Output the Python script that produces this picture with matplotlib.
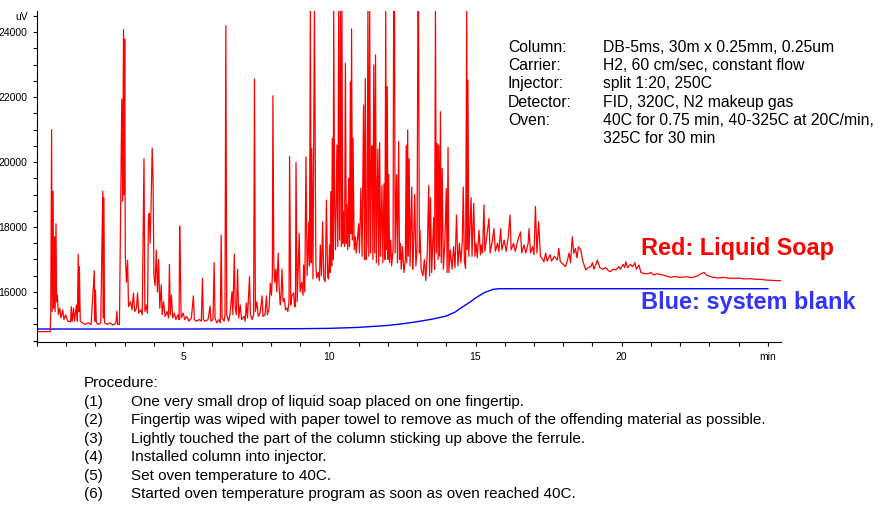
import numpy as np
import matplotlib
matplotlib.use("Agg")
from matplotlib import pyplot as plt
from matplotlib.ticker import MultipleLocator, FixedLocator, FixedFormatter

plt.rcParams["font.family"] = ["Liberation Sans", "DejaVu Sans"]

# red trace (liquid soap), digitised as (min, uV)
red_early = [
    (0.0, 14780), (0.45, 14780), (0.47, 15350), (0.50, 21000), (0.52, 15400),
    (0.55, 19100), (0.57, 15500), (0.60, 17700), (0.62, 15400), (0.65, 18100),
    (0.67, 15700), (0.70, 15900), (0.73, 15300), (0.78, 15500), (0.82, 15200),
    (0.88, 15450), (0.92, 15150), (0.98, 15300), (1.05, 15100), (1.15, 15080),
    (1.17, 15550), (1.20, 15100), (1.25, 15500), (1.28, 15100), (1.35, 15600),
    (1.38, 15100), (1.41, 17160), (1.43, 15400), (1.45, 16780), (1.48, 15100),
    (1.55, 15050), (1.65, 15000), (1.75, 15050), (1.85, 15000), (1.96, 16650),
    (1.98, 15100), (2.00, 16060), (2.03, 15050), (2.10, 15000), (2.18, 15050),
    (2.25, 19100), (2.27, 15200), (2.28, 18900), (2.31, 15050), (2.40, 15000),
    (2.50, 15050), (2.60, 14980), (2.70, 15050), (2.73, 15400), (2.76, 15000),
    (2.82, 15000), (2.86, 18500), (2.90, 21940), (2.93, 18800), (2.96, 24080),
    (2.98, 19000), (3.00, 23785), (3.02, 17140), (3.06, 16300), (3.10, 16980),
    (3.13, 15550), (3.20, 15700), (3.25, 15450),
]
red_mid = [
    (3.30, 15970), (3.34, 15400), (3.40, 15500), (3.44, 15970), (3.48, 15350),
    (3.55, 15450), (3.60, 15300), (3.66, 20100), (3.69, 15400), (3.75, 15600),
    (3.78, 15350), (3.81, 18215), (3.84, 18420), (3.87, 17500), (3.90, 18600),
    (3.94, 20430), (3.97, 19450), (4.00, 16500), (4.04, 16200), (4.08, 17290),
    (4.12, 16000), (4.16, 17000), (4.20, 15500), (4.25, 16215), (4.28, 15300),
    (4.33, 15700), (4.38, 15250), (4.45, 15400), (4.50, 15200), (4.53, 16850),
    (4.56, 15300), (4.60, 15900), (4.64, 15200), (4.70, 15350), (4.75, 15150),
    (4.82, 15300), (4.86, 15150), (4.88, 18030), (4.90, 17050), (4.93, 15200),
    (5.00, 15350), (5.05, 15150), (5.12, 15250), (5.20, 15100), (5.28, 15200),
    (5.35, 15880), (5.38, 15150), (5.45, 15100), (5.55, 15150), (5.62, 15100),
    (5.66, 16420), (5.69, 15150), (5.75, 15100), (5.85, 15150), (5.92, 15560),
    (5.95, 15100), (6.02, 15150), (6.06, 16910), (6.09, 15200), (6.15, 15050),
    (6.22, 15150), (6.27, 15050), (6.30, 17750), (6.33, 15200), (6.40, 15100),
    (6.43, 15300), (6.46, 24200), (6.49, 15300), (6.55, 15100), (6.60, 15300),
    (6.67, 16010), (6.70, 15300), (6.75, 17160), (6.78, 15500), (6.82, 15300),
    (6.86, 16700), (6.90, 15200), (6.95, 15600), (7.00, 15150), (7.08, 15250),
    (7.12, 15100), (7.16, 15660), (7.20, 15200), (7.27, 16470), (7.30, 15300),
    (7.36, 15150), (7.41, 15300), (7.44, 22550), (7.47, 15400), (7.52, 15700),
    (7.57, 15250), (7.63, 15350), (7.70, 15880), (7.73, 15250), (7.80, 15300),
    (7.85, 15880), (7.88, 15300), (7.94, 15500), (7.98, 16270), (8.02, 15900),
    (8.05, 16500), (8.07, 22040), (8.10, 16900), (8.13, 16300), (8.17, 16700),
    (8.20, 16000), (8.25, 17200), (8.28, 16200), (8.32, 15600), (8.35, 15900),
    (8.38, 16700), (8.42, 15700), (8.46, 15800), (8.50, 15450), (8.55, 15500),
    (8.58, 15400), (8.62, 15700), (8.64, 20170), (8.68, 15600), (8.72, 15900),
    (8.78, 15970), (8.81, 15550), (8.84, 15550), (8.86, 19990), (8.90, 15700),
    (8.97, 17800), (9.00, 16000), (9.05, 16300), (9.10, 15900), (9.12, 16830),
    (9.16, 16000),
]
red_dense = [
    (9.20, 20160), (9.24, 16500), (9.30, 18160), (9.32, 16800), (9.35, 24700),
    (9.38, 16900), (9.40, 20420), (9.44, 16400), (9.49, 24700), (9.51, 21550),
    (9.54, 16800), (9.57, 16430), (9.62, 16600), (9.66, 16350), (9.69, 17450),
    (9.73, 16500), (9.77, 18160), (9.81, 16400), (9.86, 16320), (9.90, 18830),
    (9.94, 16500), (9.97, 16400), (10.01, 17450), (10.03, 16600), (10.05, 19090),
    (10.08, 16800), (10.10, 20730), (10.13, 17000), (10.15, 24700), (10.18, 18680),
    (10.21, 17300), (10.26, 20520), (10.29, 17400), (10.32, 24700), (10.35, 17600),
    (10.38, 24700), (10.41, 17400), (10.43, 24700), (10.46, 17500), (10.49, 18470),
    (10.52, 17400), (10.55, 23040), (10.58, 17500), (10.60, 18680), (10.63, 17300),
    (10.66, 19500), (10.69, 17400), (10.72, 22470), (10.74, 17800), (10.76, 24100),
    (10.79, 17600), (10.81, 20730), (10.85, 17300), (10.89, 17700), (10.92, 17200),
    (10.96, 17600), (11.00, 18100), (11.03, 17200), (11.08, 19200), (11.12, 17100),
    (11.17, 21750), (11.20, 17000), (11.23, 22570), (11.26, 17000), (11.29, 17600),
    (11.32, 24700), (11.35, 17100), (11.38, 24700), (11.41, 17200), (11.43, 19800),
    (11.46, 20500), (11.49, 17000), (11.52, 22990), (11.55, 17200), (11.58, 23300),
    (11.61, 16900), (11.66, 20400), (11.69, 16830), (11.72, 20600), (11.75, 17100),
    (11.80, 19280), (11.83, 16900), (11.87, 19330), (11.90, 17000), (11.93, 24700),
    (11.95, 17300), (11.98, 22330), (12.01, 17000), (12.03, 19610), (12.06, 16900),
    (12.10, 17600), (12.13, 16800), (12.18, 17300), (12.20, 24700), (12.23, 24700),
    (12.25, 17200), (12.30, 19600), (12.33, 16900), (12.37, 20630), (12.40, 17000),
    (12.43, 17500), (12.46, 16700), (12.50, 17400), (12.55, 16600), (12.60, 17000),
    (12.63, 20520), (12.65, 16900), (12.68, 20990), (12.70, 17100), (12.73, 20100),
    (12.76, 16800), (12.82, 19230), (12.85, 16700), (12.88, 17400), (12.92, 19000),
    (12.96, 16800), (13.00, 17300), (13.03, 24700), (13.05, 24700), (13.08, 17200),
    (13.10, 17900), (13.14, 16700), (13.20, 16500), (13.25, 17000), (13.30, 16350),
    (13.35, 17200), (13.40, 19280), (13.43, 16500), (13.46, 18900), (13.50, 16600),
    (13.57, 18300), (13.60, 16700), (13.63, 24700), (13.66, 17200), (13.69, 20580),
    (13.72, 17000), (13.74, 20520), (13.77, 17100), (13.80, 21550), (13.83, 16900),
    (13.86, 19800), (13.90, 16700), (13.95, 17500), (14.00, 19180), (14.03, 16600),
    (14.06, 20450), (14.09, 16600), (14.14, 17300), (14.20, 16700), (14.25, 17400),
    (14.30, 16750), (14.35, 18370), (14.40, 16800), (14.45, 17500), (14.50, 16900),
    (14.55, 17600), (14.58, 19230), (14.62, 16950), (14.66, 16730), (14.70, 24700),
    (14.72, 17300), (14.74, 22520), (14.77, 17100), (14.85, 18900), (14.88, 17100),
    (14.94, 18730), (14.98, 17100), (15.02, 17500), (15.06, 17050), (15.12, 17900),
    (15.17, 17140), (15.20, 17450), (15.24, 17200), (15.29, 18680), (15.32, 17250),
]
red_tail = [
    (15.46, 18260), (15.50, 17200), (15.58, 17600), (15.63, 17950), (15.68, 17250),
    (15.75, 17500), (15.80, 17250), (15.86, 17950), (15.90, 17300), (15.98, 17600),
    (16.05, 17250), (16.12, 17700), (16.18, 18370), (16.22, 17300), (16.30, 17500),
    (16.36, 17250), (16.45, 17600), (16.54, 17850), (16.58, 17200), (16.66, 17450),
    (16.72, 17200), (16.80, 17500), (16.83, 17950), (16.88, 17200), (16.95, 17400),
    (17.00, 17150), (17.05, 18630), (17.10, 17200), (17.16, 18160), (17.22, 17100),
    (17.30, 17000), (17.34, 16930), (17.40, 17200), (17.45, 16950), (17.55, 17150),
    (17.60, 16950), (17.70, 17100), (17.80, 16980), (17.85, 17340), (17.90, 16930),
    (18.00, 16850), (18.08, 16780), (18.15, 17000), (18.20, 17200), (18.25, 16900),
    (18.31, 17700), (18.36, 17190), (18.42, 17340), (18.47, 17050), (18.52, 17390),
    (18.60, 17300), (18.67, 16950), (18.77, 16680), (18.85, 16750), (18.94, 16780),
    (19.00, 16900), (19.05, 16700), (19.17, 16980), (19.25, 16750), (19.35, 16700),
    (19.45, 16750), (19.55, 16650), (19.62, 16630), (19.70, 16700), (19.80, 16680),
    (19.90, 16780), (19.95, 16700), (20.05, 16850), (20.10, 16750), (20.14, 16930),
    (20.20, 16750), (20.30, 16850), (20.37, 16780), (20.45, 16900), (20.50, 16700),
    (20.59, 16830), (20.66, 16600), (20.75, 16575), (20.90, 16560), (21.00, 16600),
    (21.10, 16520), (21.20, 16560), (21.34, 16540), (21.50, 16500), (21.68, 16450),
    (21.80, 16480), (22.00, 16450), (22.20, 16470), (22.40, 16440), (22.60, 16500),
    (22.75, 16580), (22.82, 16600), (22.90, 16520), (23.00, 16480), (23.16, 16450),
    (23.30, 16430), (23.50, 16450), (23.62, 16430), (23.80, 16420), (24.00, 16430),
    (24.20, 16400), (24.40, 16410), (24.60, 16390), (24.76, 16390), (24.90, 16370),
    (25.10, 16360), (25.30, 16350), (25.45, 16350),
]

# blue trace (system blank)
blue_t = [0.0, 5.0, 9.0, 10.0, 11.0, 12.0, 12.5, 13.0, 13.5, 14.0, 14.3, 14.5,
          14.8, 15.0, 15.3, 15.6, 15.8, 25.0]
blue_uv = [14860, 14860, 14870, 14880, 14910, 14970, 15020, 15085, 15160, 15260,
           15380, 15510, 15680, 15815, 15980, 16080, 16100, 16100]

y_ticks = [16000, 18000, 20000, 22000, 24000]
x_ticks = [5, 10, 15, 20, 25]
x_labels = ["5", "10", "15", "20", "min"]

conditions = [
    ("Column:", "DB-5ms, 30m x 0.25mm, 0.25um"),
    ("Carrier:", "H2, 60 cm/sec, constant flow"),
    ("Injector:", "split 1:20, 250C"),
    ("Detector:", "FID, 320C, N2 makeup gas"),
    ("Oven:", "40C for 0.75 min, 40-325C at 20C/min,"),
    ("", "325C for 30 min"),
]
procedure = [
    "One very small drop of liquid soap placed on one fingertip.",
    "Fingertip was wiped with paper towel to remove as much of the offending material as possible.",
    "Lightly touched the part of the column sticking up above the ferrule.",
    "Installed column into injector.",
    "Set oven temperature to 40C.",
    "Started oven temperature program as soon as oven reached 40C.",
]

W, H = 883, 508
fig = plt.figure(figsize=(W / 100, H / 100), dpi=100)
ax = fig.add_axes([37 / W, 1 - 342 / H, 744 / W, 331 / H])

red = np.array(red_early + red_mid + red_dense + red_tail)
ax.plot(blue_t, blue_uv, color="#0000ff", lw=1.0)
ax.plot(red[:, 0], red[:, 1], color="#ff0000", lw=0.9)

ax.set_xlim(0, 25.45)
ax.set_ylim(14460, 24650)
for s in ("top", "right"):
    ax.spines[s].set_visible(False)
ax.xaxis.set_major_locator(FixedLocator(x_ticks))
ax.xaxis.set_major_formatter(FixedFormatter(x_labels))
ax.xaxis.set_minor_locator(MultipleLocator(1))
ax.set_yticks(y_ticks)
ax.yaxis.set_minor_locator(MultipleLocator(500))
ax.tick_params(which="both", length=3, width=0.8, labelsize=7.5, pad=4)

fig.text(28 / W, 1 - 17 / H, "uV", fontsize=7.5, ha="right", va="center")

for i, (k, v) in enumerate(conditions):
    y = 1 - (47.5 + 18.2 * i) / H
    fig.text(508 / W, y, k, fontsize=11.3, va="center")
    fig.text(603 / W, y, v, fontsize=11.3, va="center")

fig.text(641 / W, 1 - 248 / H, "Red: Liquid Soap", fontsize=16.9,
         fontweight="bold", color="#ff0000", va="center")
fig.text(641 / W, 1 - 302 / H, "Blue: system blank", fontsize=16.9,
         fontweight="bold", color="#3333ff", va="center")

fig.text(84 / W, 1 - 383 / H, "Procedure:", fontsize=11, va="center")
for i, line in enumerate(procedure):
    y = 1 - (402 + 18.4 * i) / H
    fig.text(84 / W, y, "(%d)" % (i + 1), fontsize=11, va="center")
    fig.text(131 / W, y, line, fontsize=11, va="center")

fig.savefig("out.png", dpi=100)
